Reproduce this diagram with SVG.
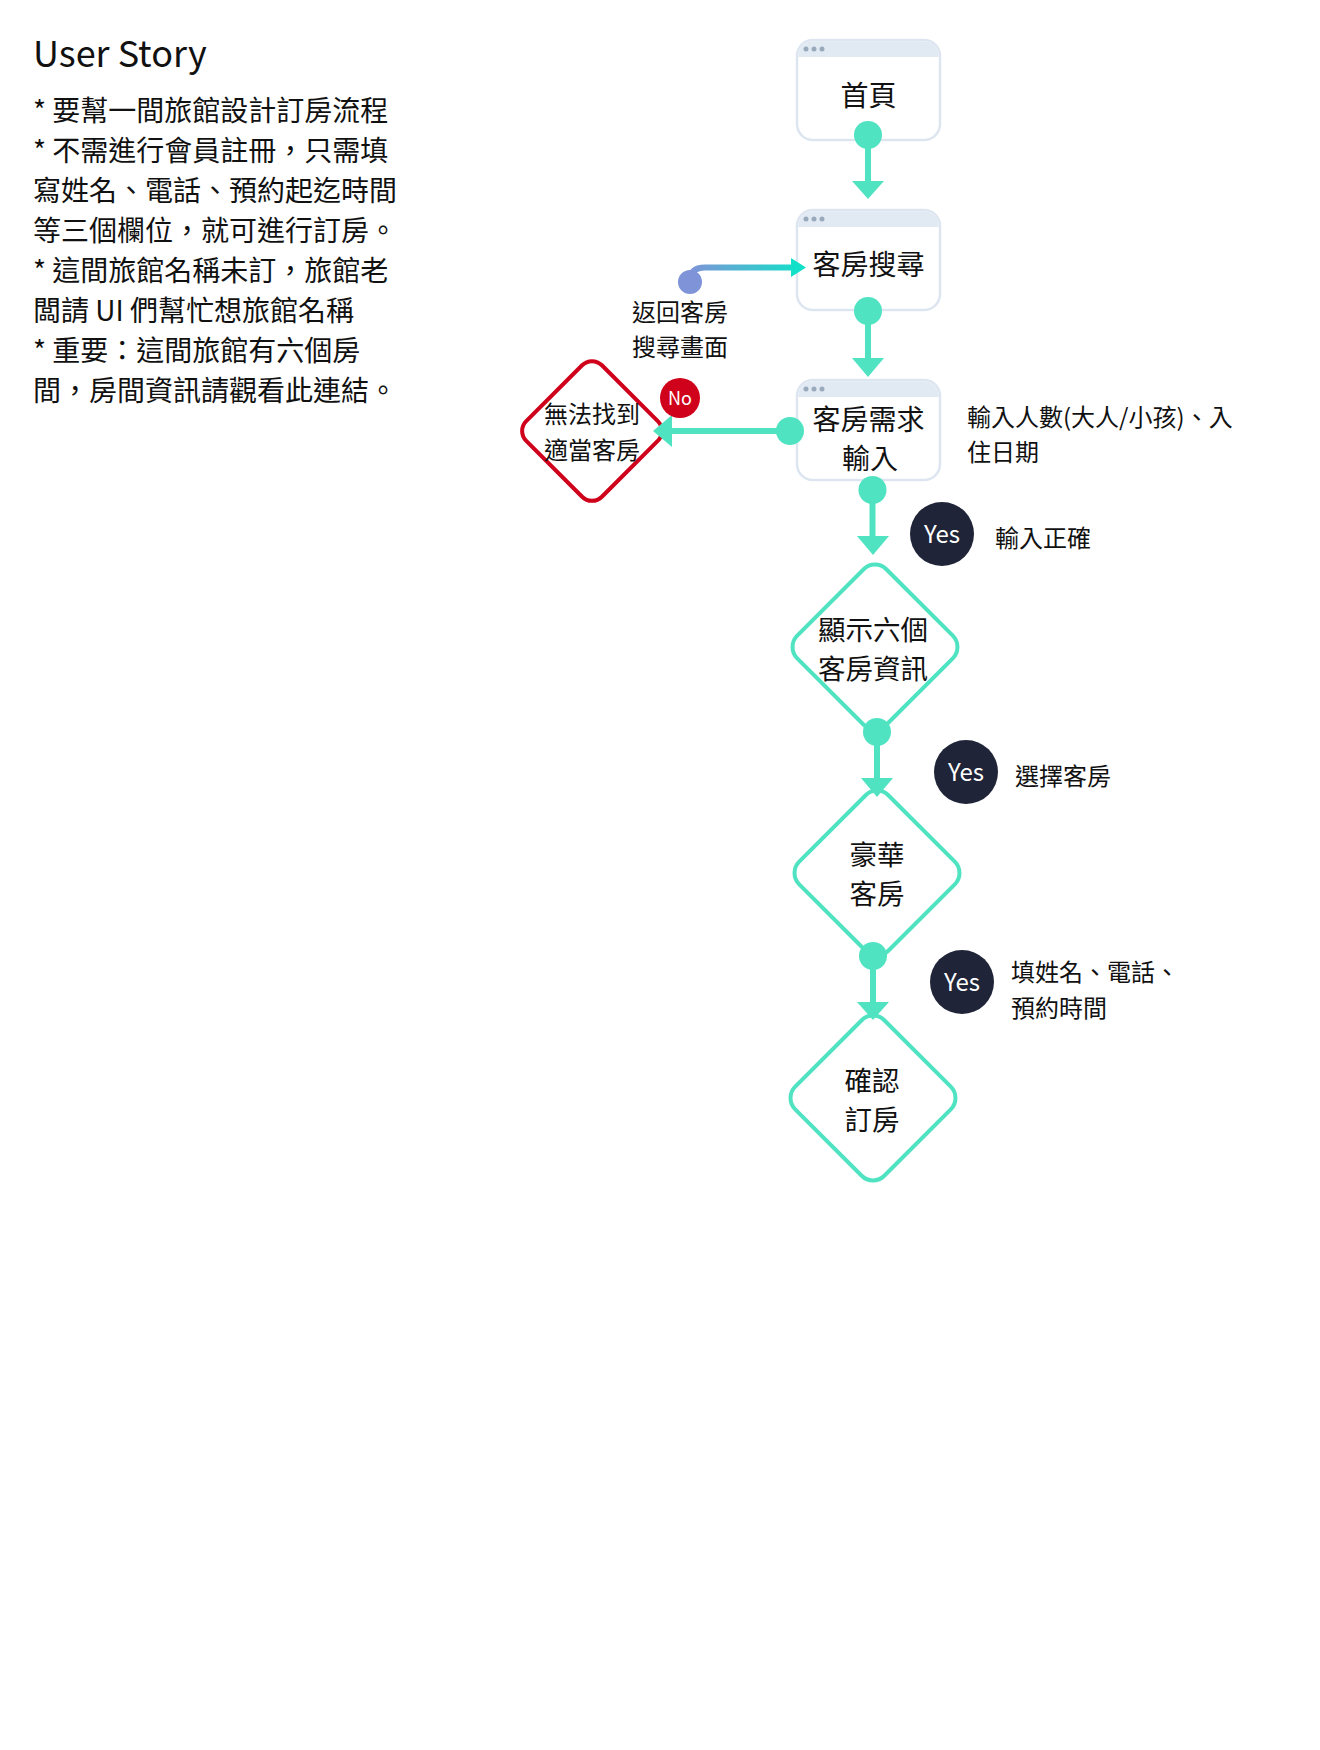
<svg xmlns="http://www.w3.org/2000/svg" width="1320" height="1750" viewBox="0 0 1320 1750">
<defs>
<style>
text{font-family:"Noto Sans CJK TC","Noto Sans",sans-serif;fill:#111;}
.story{font-size:28px;}
.title{font-size:36px;}
.box{fill:#fff;stroke:#dde6f0;stroke-width:2.5;}
.hdr{fill:#e1eaf3;}
.dot{fill:#9aaabd;}
.lbl{font-size:28px;text-anchor:middle;}
.dlbl{font-size:27.5px;text-anchor:middle;}
.note{font-size:24px;}
.dia{fill:#fff;stroke:#50e3c2;stroke-width:4;}
.dia-red{fill:#fff;stroke:#d0021b;stroke-width:4;}
.cline{stroke:#50e3c2;stroke-width:6;fill:none;}
.cdot{fill:#50e3c2;}
.yes{fill:#1f2438;}
.yestxt{font-size:24px;fill:#fff;text-anchor:middle;font-family:"Noto Sans CJK TC","Noto Sans",sans-serif;}
</style>
<linearGradient id="ret" gradientUnits="userSpaceOnUse" x1="690" y1="0" x2="800" y2="0">
<stop offset="0" stop-color="#7f93d8"/>
<stop offset="1" stop-color="#12e0c8"/>
</linearGradient>
</defs>
<rect width="1320" height="1750" fill="#fff"/>

<g id="user-story">
<text class="title" x="33" y="67">User Story</text>
<text class="story" x="33" y="121">* 要幫一間旅館設計訂房流程</text>
<text class="story" x="33" y="161">* 不需進行會員註冊，只需填</text>
<text class="story" x="33" y="201">寫姓名、電話、預約起迄時間</text>
<text class="story" x="33" y="241">等三個欄位，就可進行訂房。</text>
<text class="story" x="33" y="281">* 這間旅館名稱未訂，旅館老</text>
<text class="story" x="33" y="321">闆請 UI 們幫忙想旅館名稱</text>
<text class="story" x="33" y="361">* 重要：這間旅館有六個房</text>
<text class="story" x="33" y="401">間，房間資訊請觀看此連結。</text>
</g>

<g id="node-home">
<rect class="box" x="797" y="40" width="143" height="100" rx="16"/>
<path class="hdr" d="M798.3,57 V56 a15,15 0 0 1 15,-14.7 H923.7 a15,15 0 0 1 15,14.7 V57 Z"/>
<circle class="dot" cx="806" cy="49" r="2.5"/><circle class="dot" cx="814" cy="49" r="2.5"/><circle class="dot" cx="822" cy="49" r="2.5"/>
<text class="lbl" x="868.5" y="106">首頁</text>
</g>

<g id="node-search">
<rect class="box" x="797" y="210" width="143" height="100" rx="16"/>
<path class="hdr" d="M798.3,227 V226 a15,15 0 0 1 15,-14.7 H923.7 a15,15 0 0 1 15,14.7 V227 Z"/>
<circle class="dot" cx="806" cy="219" r="2.5"/><circle class="dot" cx="814" cy="219" r="2.5"/><circle class="dot" cx="822" cy="219" r="2.5"/>
<text class="lbl" x="868.5" y="275">客房搜尋</text>
</g>

<g id="node-input">
<rect class="box" x="797" y="380" width="143" height="100" rx="16"/>
<path class="hdr" d="M798.3,397 V396 a15,15 0 0 1 15,-14.7 H923.7 a15,15 0 0 1 15,14.7 V397 Z"/>
<circle class="dot" cx="806" cy="389" r="2.5"/><circle class="dot" cx="814" cy="389" r="2.5"/><circle class="dot" cx="822" cy="389" r="2.5"/>
<text class="lbl" x="868.5" y="430">客房需求</text>
<text class="lbl" x="870" y="469">輸入</text>
</g>

<g id="node-notfound">
<rect class="dia-red" x="538.5" y="377.5" width="107" height="107" rx="14" transform="rotate(45 592 431)"/>
<text class="note" x="592" y="423" text-anchor="middle">無法找到</text>
<text class="note" x="592" y="459" text-anchor="middle">適當客房</text>
</g>

<g id="node-show">
<rect class="dia" x="812" y="584" width="126" height="126" rx="16" transform="rotate(45 875 647)"/>
<text class="dlbl" x="873" y="640">顯示六個</text>
<text class="dlbl" x="873" y="679">客房資訊</text>
</g>

<g id="node-deluxe">
<rect class="dia" x="814" y="810" width="126" height="126" rx="16" transform="rotate(45 877 873)"/>
<text class="dlbl" x="877" y="865">豪華</text>
<text class="dlbl" x="877" y="904">客房</text>
</g>

<g id="node-confirm">
<rect class="dia" x="810" y="1035" width="126" height="126" rx="16" transform="rotate(45 873 1098)"/>
<text class="dlbl" x="872" y="1091">確認</text>
<text class="dlbl" x="872" y="1130">訂房</text>
</g>

<g id="connectors">
<line class="cline" x1="868" y1="135" x2="868" y2="184"/>
<circle class="cdot" cx="868" cy="135" r="14"/>
<polygon fill="#50e3c2" points="852,181 884,181 868,199"/>
<line class="cline" x1="868" y1="311" x2="868" y2="361"/>
<circle class="cdot" cx="868" cy="311" r="14"/>
<polygon fill="#50e3c2" points="852,358 884,358 868,377"/>
<line class="cline" x1="872.5" y1="490" x2="872.5" y2="539"/>
<circle class="cdot" cx="872.5" cy="490" r="14"/>
<polygon fill="#50e3c2" points="857,536 889,536 873,555"/>
<line class="cline" x1="877" y1="732" x2="877" y2="781"/>
<circle class="cdot" cx="877" cy="732" r="14"/>
<polygon fill="#50e3c2" points="861,778 893,778 877,797"/>
<line class="cline" x1="873" y1="956" x2="873" y2="1005"/>
<circle class="cdot" cx="873" cy="956" r="14"/>
<polygon fill="#50e3c2" points="857,1002 889,1002 873,1020"/>
<line class="cline" x1="790" y1="431" x2="668" y2="431"/>
<circle class="cdot" cx="790" cy="431" r="14"/>
<polygon fill="#50e3c2" points="672,415 672,447 653,431"/>
<path d="M690,281 Q690,267.5 705,267.5 L793,267.5" fill="none" stroke="url(#ret)" stroke-width="6"/>
<circle cx="690" cy="282" r="12" fill="#7f93d8"/>
<polygon fill="#12e0c8" points="791,258 791,277 806,267.5"/>
</g>

<g id="labels">
<text class="note" x="680" y="321" text-anchor="middle">返回客房</text>
<text class="note" x="680" y="356" text-anchor="middle">搜尋畫面</text>
<circle cx="680" cy="398" r="20" fill="#d0021b"/>
<text x="680" y="404.5" font-size="18" text-anchor="middle" style="fill:#fff">No</text>
<text class="note" x="967" y="426">輸入人數(大人/小孩)、入</text>
<text class="note" x="967" y="461">住日期</text>
<circle class="yes" cx="942" cy="534" r="32"/>
<text class="yestxt" x="942" y="542.5">Yes</text>
<text class="note" x="995" y="547">輸入正確</text>
<circle class="yes" cx="966" cy="772" r="32"/>
<text class="yestxt" x="966" y="780.5">Yes</text>
<text class="note" x="1015" y="785">選擇客房</text>
<circle class="yes" cx="962" cy="982" r="32"/>
<text class="yestxt" x="962" y="990.5">Yes</text>
<text class="note" x="1011" y="981">填姓名、電話、</text>
<text class="note" x="1011" y="1017">預約時間</text>
</g>
</svg>
